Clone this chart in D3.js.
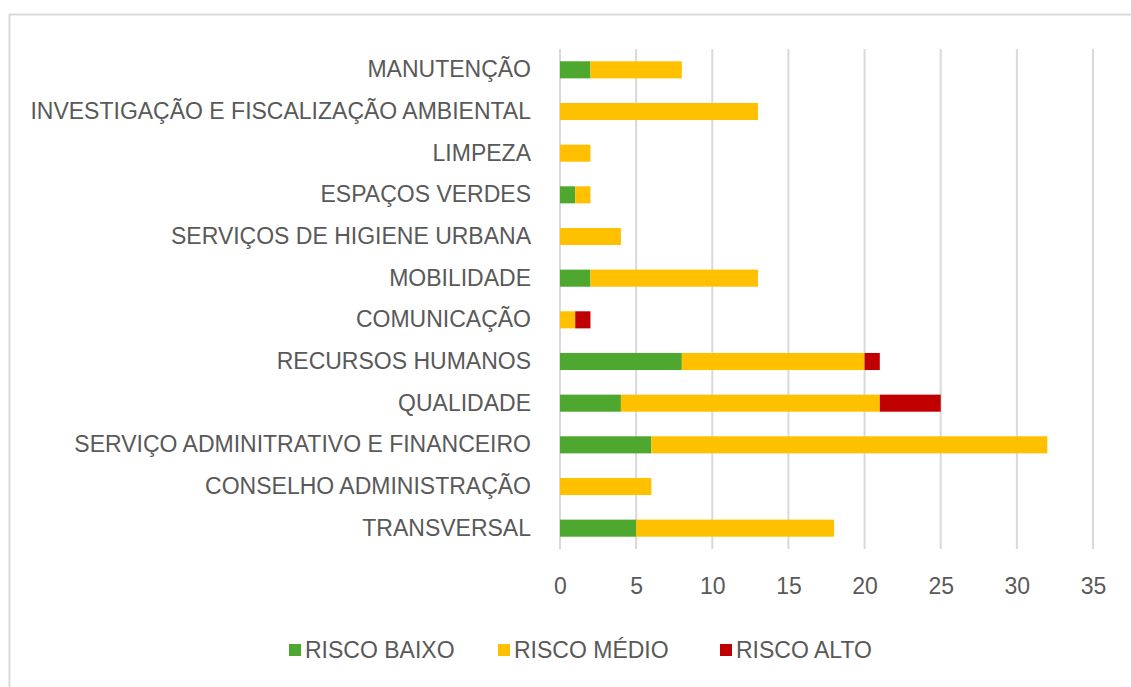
<!DOCTYPE html>
<html>
<head>
<meta charset="utf-8">
<script src="https://cdn.jsdelivr.net/npm/d3@7"></script>
<style>
  body { margin: 0; background: #fff; }
  text { font-family: "Liberation Sans", Arial, sans-serif; fill: #595959; }
</style>
</head>
<body>
<svg id="chart" width="1131" height="687"></svg>
<script>
// dados (de cima para baixo)
const categorias = [
  'MANUTENÇÃO',
  'INVESTIGAÇÃO E FISCALIZAÇÃO AMBIENTAL',
  'LIMPEZA ',
  'ESPAÇOS VERDES',
  'SERVIÇOS DE HIGIENE URBANA',
  'MOBILIDADE',
  'COMUNICAÇÃO',
  'RECURSOS HUMANOS',
  'QUALIDADE',
  'SERVIÇO ADMINITRATIVO E FINANCEIRO',
  'CONSELHO ADMINISTRAÇÃO',
  'TRANSVERSAL'
]
const riscoBaixo = [2, 0, 0, 1, 0, 2, 0, 8, 4, 6, 0, 5]
const riscoMedio = [6, 13, 2, 1, 4, 11, 1, 12, 17, 26, 6, 13]
const riscoAlto  = [0, 0, 0, 0, 0, 0, 1, 1, 4, 0, 0, 0]
const series = ['RISCO BAIXO', 'RISCO MÉDIO', 'RISCO ALTO']
const cores = ['#4EA72E', '#FFC000', '#C00000']
const ticksX = [0, 5, 10, 15, 20, 25, 30, 35]

let svg = d3.select('#chart')
let fs = '23px'

// moldura
svg.append('rect')
  .attr('x', 9.5).attr('y', 14.5)
  .attr('width', 1140).attr('height', 690)
  .attr('fill', 'none')
  .attr('stroke', '#d9d9d9')
  .attr('stroke-width', 2)

let x = d3.scaleLinear().domain([0, 35]).range([560, 1093])
let y = d3.scaleBand().domain(categorias).range([49, 549])
  .paddingInner(0.59).paddingOuter(0.295)

// linhas de grelha
svg.append('g')
  .selectAll('line')
  .data(ticksX)
  .enter()
  .append('line')
  .attr('x1', d => x(d)).attr('x2', d => x(d))
  .attr('y1', 49).attr('y2', 549)
  .attr('stroke', '#d9d9d9')
  .attr('stroke-width', 2)

// empilhar
let linhas = categorias.map((c, i) => ({
  cat: c, 'RISCO BAIXO': riscoBaixo[i], 'RISCO MÉDIO': riscoMedio[i], 'RISCO ALTO': riscoAlto[i]
}))
let stack = d3.stack().keys(series)(linhas)

svg.append('g')
  .selectAll('g')
  .data(stack)
  .enter()
  .append('g')
  .attr('fill', (d, i) => cores[i])
  .selectAll('rect')
  .data(d => d)
  .enter()
  .append('rect')
  .attr('x', d => x(d[0]))
  .attr('width', d => x(d[1]) - x(d[0]))
  .attr('y', d => y(d.data.cat))
  .attr('height', y.bandwidth())

// eixo x
let eixoX = svg.append('g')
  .attr('transform', 'translate(0,586)')
  .call(d3.axisBottom(x).tickValues(ticksX).tickSize(0).tickPadding(0))
eixoX.select('.domain').remove()
eixoX.selectAll('text')
  .attr('dy', '0.35em')
  .style('font-size', fs)
  .attr('fill', '#595959')

// eixo y
let eixoY = svg.append('g')
  .attr('transform', 'translate(531,0)')
  .call(d3.axisLeft(y).tickSize(0).tickPadding(0))
eixoY.select('.domain').remove()
eixoY.selectAll('text')
  .style('font-size', fs)
  .attr('fill', '#595959')

// legenda
let legX = [289, 498, 720]
let leg = svg.append('g')
  .selectAll('g')
  .data(series)
  .enter()
  .append('g')
  .attr('transform', (d, i) => 'translate(' + legX[i] + ',650)')
leg.append('rect')
  .attr('x', 0).attr('y', -6)
  .attr('width', 12).attr('height', 12)
  .attr('fill', (d, i) => cores[i])
leg.append('text')
  .attr('x', 16)
  .attr('dy', '0.35em')
  .style('font-size', fs)
  .text(d => d)
</script>
</body>
</html>
